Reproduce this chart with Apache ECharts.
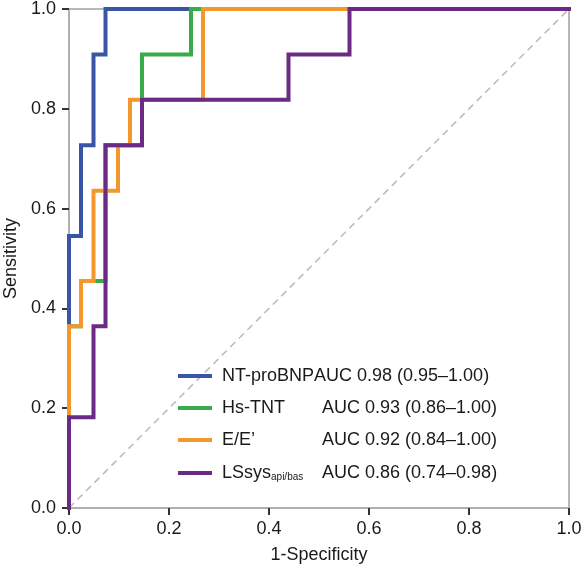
<!DOCTYPE html>
<html>
<head>
<meta charset="utf-8">
<script src="https://cdn.jsdelivr.net/npm/echarts@6/dist/echarts.min.js"></script>
<style>
html,body{margin:0;padding:0;background:#fff;}
#c{width:586px;height:570px;}
</style>
</head>
<body>
<div id="c"></div>
<script>
// Data (step corners: 1-Specificity, Sensitivity)
const seriesNames = ['NT-proBNP', 'Hs-TNT', 'E/E\u2019', 'LSsys'];
const aucLabels = ['AUC 0.98 (0.95\u20131.00)', 'AUC 0.93 (0.86\u20131.00)', 'AUC 0.92 (0.84\u20131.00)', 'AUC 0.86 (0.74\u20130.98)'];

const ntX = [0, 0, 0.024, 0.024, 0.049, 0.049, 0.073, 0.073, 1];
const ntY = [0, 0.545, 0.545, 0.727, 0.727, 0.909, 0.909, 1, 1];

const hsX = [0, 0, 0.024, 0.024, 0.073, 0.073, 0.146, 0.146, 0.244, 0.244, 1];
const hsY = [0, 0.364, 0.364, 0.455, 0.455, 0.727, 0.727, 0.909, 0.909, 1, 1];

const eeX = [0, 0, 0.024, 0.024, 0.049, 0.049, 0.098, 0.098, 0.122, 0.122, 0.268, 0.268, 1];
const eeY = [0, 0.364, 0.364, 0.455, 0.455, 0.636, 0.636, 0.727, 0.727, 0.818, 0.818, 1, 1];

const lsX = [0, 0, 0.049, 0.049, 0.073, 0.073, 0.146, 0.146, 0.439, 0.439, 0.561, 0.561, 1];
const lsY = [0, 0.182, 0.182, 0.364, 0.364, 0.727, 0.727, 0.818, 0.818, 0.909, 0.909, 1, 1];

const refX = [0, 1];
const refY = [0, 1];

const colors = ['#3a55a5', '#3aab4a', '#f3982c', '#6b2a84'];
const xs = [ntX, hsX, eeX, lsX];
const ys = [ntY, hsY, eeY, lsY];

const FONT = '"Liberation Sans", Arial, Helvetica, sans-serif';
const pairs = (a, b) => a.map((v, i) => [v, b[i]]);

const chart = echarts.init(document.getElementById('c'), null, {renderer: 'canvas'});

const series = [{
  type: 'line',
  name: 'ref',
  data: pairs(refX, refY),
  symbol: 'none',
  silent: true,
  lineStyle: {color: '#bdbdbd', width: 1.6, type: [7, 5]},
  z: 1
}];
seriesNames.forEach((n, i) => {
  series.push({
    type: 'line',
    name: n,
    data: pairs(xs[i], ys[i]),
    symbol: 'none',
    lineStyle: {color: colors[i], width: 4, cap: 'square', join: 'miter'},
    itemStyle: {color: colors[i]},
    z: 2 + i
  });
});

const legendTops = [362, 394, 426, 459];
const legends = seriesNames.map((n, i) => ({
  data: [n],
  left: 173,
  top: legendTops[i],
  orient: 'vertical',
  itemWidth: 34,
  itemHeight: 14,
  icon: 'path://M0,5.5 L34,5.5 L34,9.5 L0,9.5 Z',
  selectedMode: false,
  formatter: function (name) {
    const idx = seriesNames.indexOf(name);
    if (idx === 0) return '{p| }{f|' + name + '}{a|' + aucLabels[idx] + '}';
    if (idx === 3) return '{p| }{m|LSsys}{s|api/bas}{a|' + aucLabels[idx] + '}';
    return '{p| }{n|' + name + '}{a|' + aucLabels[idx] + '}';
  },
  textStyle: {
    fontFamily: FONT,
    fontSize: 18,
    color: '#1a1a1a',
    rich: {
      p: {width: 5, fontSize: 18},
      f: {fontSize: 18, fontFamily: FONT, color: '#1a1a1a'},
      n: {width: 100, fontSize: 18, fontFamily: FONT, color: '#1a1a1a'},
      m: {fontSize: 18, fontFamily: FONT, color: '#1a1a1a'},
      s: {width: 51, fontSize: 10, fontFamily: FONT, color: '#1a1a1a', padding: [8, 0, 0, 0]},
      a: {fontSize: 18, fontFamily: FONT, color: '#1a1a1a'}
    }
  }
}));

chart.setOption({
  animation: false,
  backgroundColor: '#fff',
  textStyle: {fontFamily: FONT},
  grid: {
    left: 69, right: 17, top: 9, bottom: 62,
    outerBoundsMode: 'none', containLabel: false,
    show: true, borderColor: '#b8b8b8', borderWidth: 2, backgroundColor: 'transparent'
  },
  legend: legends,
  xAxis: {
    type: 'value', min: 0, max: 1, interval: 0.2,
    name: '1-Specificity', nameLocation: 'middle', nameGap: 38,
    nameTextStyle: {fontFamily: FONT, fontSize: 18, color: '#1a1a1a'},
    axisLine: {show: true, lineStyle: {color: '#b0b0b0', width: 2}},
    axisTick: {show: true, length: 7, lineStyle: {color: '#333', width: 2}},
    axisLabel: {fontFamily: FONT, fontSize: 18, color: '#1a1a1a', margin: 12, formatter: v => v.toFixed(1)},
    splitLine: {show: false}
  },
  yAxis: {
    type: 'value', min: 0, max: 1, interval: 0.2,
    name: 'Sensitivity', nameLocation: 'middle', nameGap: 49,
    nameTextStyle: {fontFamily: FONT, fontSize: 18, color: '#1a1a1a'},
    axisLine: {show: true, lineStyle: {color: '#b0b0b0', width: 2}},
    axisTick: {show: true, length: 7, lineStyle: {color: '#333', width: 2}},
    axisLabel: {fontFamily: FONT, fontSize: 18, color: '#1a1a1a', margin: 13, formatter: v => v.toFixed(1)},
    splitLine: {show: false}
  },
  series: series
});
</script>
</body>
</html>
